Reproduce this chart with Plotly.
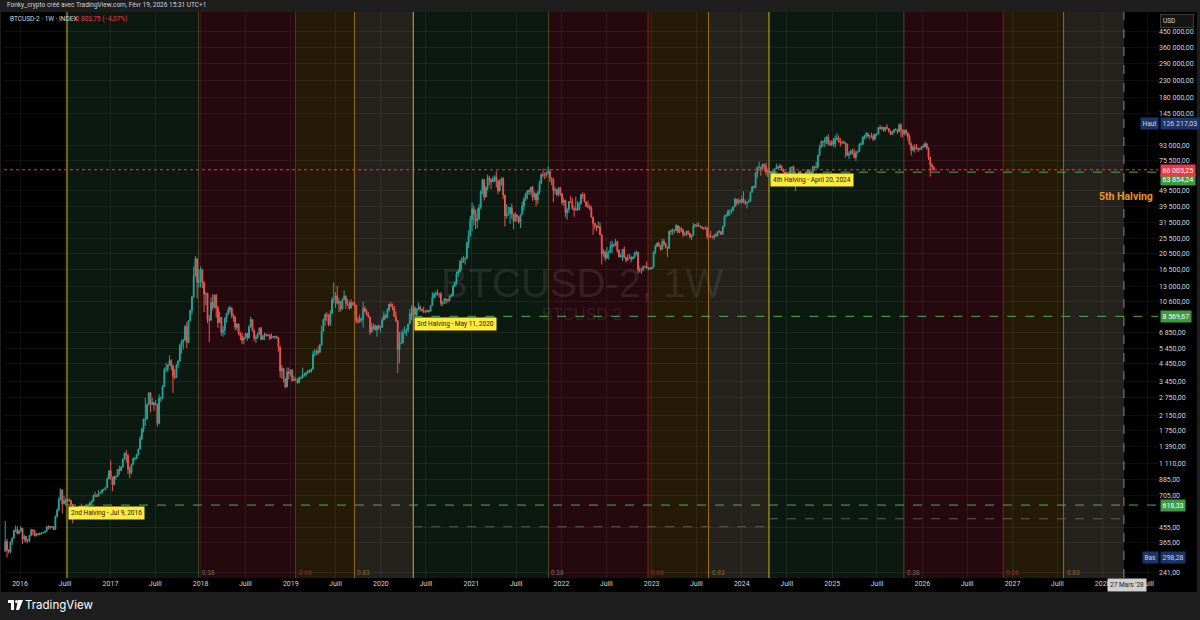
import math
import pandas as pd
import plotly.graph_objects as go

# ---------------- DATA (weekly BTCUSD-2 candles, read/estimated) ----------------
first_open = 325.0
close_2015 = [373, 330, 322, 370, 390, 435, 440, 415, 430]
high_2015 = [495, 385, 335, 372, 395, 440, 465, 460, 436]
low_2015 = [325, 298.28, 315, 315, 355, 390, 425, 410, 415]

close_2016 = [448,385,400,378,376,405,438,432,403,413,410,418,420,422,430,458,452,458,457,440,528,575,670,762,630,660,650,665,660,625,590,570,582,572,610,605,610,603,614,617,640,655,700,705,700,730,735,765,770,790,890,998]
high_2016 = [462,450,410,400,385,408,445,440,440,418,420,420,425,425,432,462,466,462,462,458,535,590,690,780,770,705,680,675,680,665,625,600,590,590,612,630,612,612,617,620,645,660,720,745,720,760,745,770,775,795,910,1000]
low_2016 = [425,360,370,365,365,370,400,405,400,400,405,405,410,415,420,428,440,440,448,435,440,520,570,660,550,625,612,645,650,615,480,565,565,565,568,600,600,595,600,608,615,625,650,690,690,700,725,725,750,765,790,890]

close_2017 = [910,820,925,920,1015,1000,1050,1170,1270,1230,1020,970,1090,1180,1180,1240,1350,1550,1780,2050,2050,2510,2950,2510,2580,2500,2520,1930,2750,2750,3220,4070,4100,4350,4620,4300,3700,3650,4360,4600,5700,6000,6150,7400,5950,8050,9300,11200,15000,19100,13800,13900]
high_2017 = [1150,910,930,925,1020,1070,1060,1180,1290,1330,1260,1060,1100,1200,1210,1260,1355,1620,1820,2060,2760,2540,2980,2980,2770,2600,2680,2520,2900,2800,3290,4200,4480,4400,4980,4720,4360,4100,4370,4620,5850,6200,6250,7600,7880,8100,9400,11400,17200,19800,19200,16500]
low_2017 = [880,750,820,880,915,940,990,1040,1170,1120,950,900,950,1085,1150,1175,1240,1350,1530,1700,1860,2080,2480,2250,2500,2300,2500,1840,1900,2600,2700,3200,3950,3950,4300,4050,2950,3580,3650,4180,4560,5100,5400,6150,5500,5900,8000,8800,11100,15000,11000,12800]

close_2018 = [16500,13700,11700,11800,8200,8100,10400,9700,11500,9600,7850,8450,6850,7050,8350,8900,9400,9650,8700,8500,7350,7700,6750,6500,6150,6350,6750,6350,7400,8200,7000,6300,6400,6700,7250,6200,6500,6700,6620,6580,6300,6450,6420,6480,6350,5600,4000,4150,3600,3200,3950,3850]
high_2018 = [17200,16300,14000,12000,11800,8700,11200,11700,11600,11700,9950,9150,8500,7500,8450,9000,9750,9950,9600,8900,8550,7750,7750,6900,6800,6450,6800,6800,7600,8500,8250,7150,6600,6850,7350,7400,6600,6850,6700,6650,6700,6750,6500,6500,6550,6400,5600,4350,4150,3600,4200,4200]
low_2018 = [12800,12700,9100,10000,7800,6000,8100,9300,9600,8400,7300,8100,6550,6450,6600,7850,8700,9000,8350,7950,7050,7050,6600,6150,5800,5800,6300,6100,6300,7350,6950,6100,5900,6250,6650,6150,6200,6150,6450,6500,6150,6300,6350,6250,6300,5250,3650,3600,3400,3150,3200,3550]

close_2019 = [4050,3500,3550,3550,3400,3650,3650,3800,3800,3900,4000,3980,4100,5050,5100,5300,5200,5750,6950,8200,8750,8700,7650,8900,10800,10800,11400,10300,10550,9500,10800,11300,10250,10150,9600,10400,10300,10000,8050,7950,8300,8200,9550,9200,8800,8500,6900,7400,7500,7100,7500,7300]
high_2019 = [4100,4100,3750,3650,3600,3700,3700,4200,3900,3950,4050,4100,4150,5300,5450,5400,5650,5850,7500,8300,8950,9100,8800,9350,11200,13800,12000,13100,11000,10600,11000,12300,11500,10900,10600,10900,10450,10350,10050,8500,8800,8400,10500,9900,9500,9100,8500,7850,7750,7650,7550,7650]
low_2019 = [3700,3450,3500,3500,3350,3370,3550,3600,3700,3700,3850,3900,3900,4100,4900,5000,5000,5150,5700,6900,7500,8000,7450,7500,8900,10300,9650,10100,9100,9150,9400,11000,9500,9900,9350,9600,9900,9800,7800,7750,7850,7900,7350,9050,8650,8400,6600,6850,7100,7050,6450,7100]

close_2020 = [7350,8150,8700,8400,9350,10150,9900,9650,8550,8050,5400,5850,5900,6800,6900,7100,7700,8900,8700,9650,8750,9450,9750,9450,9300,9150,9100,9300,9200,9950,11100,11700,11900,11650,11700,10250,10350,10950,10750,10650,11300,11500,13050,13750,15500,15950,18400,18200,19150,19250,23900,26300,33000]
high_2020 = [7500,8450,9200,8850,9600,10180,10500,10250,9950,9180,8100,6900,6950,7200,7450,7250,7750,9500,10000,9950,9850,9600,10400,9950,9550,9800,9300,9450,9300,10000,12000,11900,12100,12450,11800,12050,10550,11100,10950,10950,11450,11750,13350,13850,15950,16500,18800,19500,19900,19450,24300,28400,34800]
low_2020 = [6850,7350,8100,8250,8400,9150,9700,9300,8500,7900,3900,4450,5850,5900,6750,6500,6850,7700,8100,8200,8700,8650,9300,9150,9150,8950,8950,9100,9000,9150,9900,11000,11200,11400,11100,9900,9900,10200,10150,10350,10550,11200,11400,12900,13300,14800,15800,16300,18100,17600,19000,22200,26000]

close_2021 = [38300,35800,32300,33100,38900,48600,57500,45200,51200,59000,57600,55800,58200,59800,56200,49100,56600,58200,46400,34700,35600,35800,39000,35500,32200,35300,34200,31800,35400,39900,43800,47000,49300,48800,51800,45200,47300,43200,48200,54700,61500,61300,61300,63300,64400,58600,57300,49400,50100,46700,50800,47300]
high_2021 = [41900,40100,37800,38600,40900,49700,58350,57500,52600,61800,60600,58400,60100,61200,64850,57500,58000,59500,59600,46600,40800,39500,39500,41300,36000,36600,35100,34700,35500,42300,45300,48100,49500,50500,51900,52900,48800,47400,49300,56600,62900,67000,63700,64300,69000,66300,59300,59100,51900,50000,52100,52100]
low_2021 = [28000,30300,28900,29300,33400,38000,47000,43000,45000,49300,53300,50400,55500,55500,51500,47000,48800,53000,43800,30000,33400,34800,31100,33300,28800,32700,32100,31100,29300,35300,37500,42800,43900,46400,46600,42800,43400,39600,40800,46900,53900,59500,57800,59400,62300,55600,53300,42000,46800,45500,45600,45700]

close_2022 = [41900,43100,36300,37900,42400,42200,38400,37700,38400,37800,41300,46800,46400,42200,39700,39500,38500,34100,31300,30300,29400,29900,26600,20500,21000,19300,20800,20800,22600,23300,23200,24300,21500,19550,19950,21800,19400,18800,19300,19450,19050,19550,20650,20900,16300,16300,16450,17100,17100,16750,16850,16600]
high_2022 = [47600,44500,43500,38900,42600,45800,44500,39800,45400,42600,42300,46900,48200,47500,42400,42900,40800,40000,34300,31400,30600,32200,31600,26900,21800,21500,22500,21500,24300,24600,23600,25200,24400,21800,20550,21850,22700,19700,20300,20450,19950,19700,21000,21450,21050,17200,16800,17400,17400,18400,16950,16950]
low_2022 = [40600,39800,34000,32900,36300,41700,37900,34300,37500,37200,37600,40500,44200,41900,39200,38600,37600,33700,26700,28700,28000,29300,26600,17600,19700,18600,19000,18900,20700,20700,22400,22700,20800,19550,19550,18550,19300,18150,18500,19100,18200,18900,19250,20050,15600,15800,15500,16000,16900,16550,16250,16400]

close_2023 = [16950,20900,22700,23750,22950,21850,24300,23550,22400,22150,28000,27900,28450,28300,30300,27600,29200,28700,26900,26750,28050,27200,25850,26350,30500,30600,30150,30250,29800,29300,29050,29400,26100,26000,25850,25850,26550,26250,27950,27900,26850,29950,34500,35000,37050,37350,37450,39450,43800,41400,43000,42250]
high_2023 = [17050,21200,23300,23950,24250,23150,25250,25100,23900,22600,28500,28800,29200,28800,31000,30500,30100,29800,28800,27600,28200,28450,27450,26800,31400,31000,31500,31800,30350,29800,29500,30200,29700,26800,28150,26100,26850,27450,28050,28600,27900,30300,35200,35900,37950,37900,38400,39600,44700,43400,44300,43800]
low_2023 = [16600,16900,20400,22400,22550,21400,21550,22800,21950,19600,21900,26600,26600,27300,28200,27200,27200,27700,25800,26350,26100,26600,25350,24800,26250,29500,29700,29950,29500,28900,28600,28750,25200,25800,25600,25400,24900,26050,26050,27250,26550,26850,29950,34100,34500,34800,35600,36800,39400,40200,40500,41300]

close_2024 = [43900,41700,41550,42050,42600,48300,52100,51700,63100,68300,68400,67200,71300,69400,63900,64950,63100,64000,61400,66900,68500,67750,69650,66650,64250,62700,55850,60800,68150,68250,58150,58700,59450,64200,57300,54850,59150,63350,65600,62800,63900,69000,67950,68750,80400,89850,97900,97200,99800,104250,95100,93700]
high_2024 = [45900,48950,43550,42200,43800,48600,52800,52950,64000,69200,73800,68900,71700,71300,72700,66900,67200,64700,65500,67400,71950,70000,71950,70150,66950,63750,63850,61600,68400,69350,70050,62700,61800,65000,64950,59800,60600,64100,66500,65550,64450,69450,69500,73600,81500,93450,99600,98750,104000,105200,108300,99950]
low_2024 = [40800,41500,40500,38550,41800,42300,48200,50600,50900,59000,65000,60800,66500,64500,61000,59650,62800,56500,60200,60700,66600,66700,67600,65100,63400,58400,53500,54300,59900,63500,57200,49000,56100,57800,57200,52550,54550,57500,62650,59800,58900,62500,65100,67450,66800,80200,89400,90800,90500,94200,92200,92500]

close_2025 = [98300,94500,101300,102600,97700,96500,96150,96250,94250,80700,82600,86100,82350,78350,83750,85150,93750,94300,104100,106500,109000,105700,105700,105600,100950,108350,109200,119100,117300,119400,114200,119300,117400,113500,108250,111150,115300,115250,112150,123500,115100,108650,114500,110500,104700,94400,86800,90400,89400,88200,88400,87800,91500]
high_2025 = [98900,102700,106400,109600,106450,102500,98800,99500,96500,95000,85300,87450,88750,88500,86100,86450,95750,97900,104950,107100,111950,110700,106800,110600,108900,108550,110500,119500,123200,120250,119800,119400,124450,117650,113650,113400,116750,117900,115400,125600,126217.03,116000,114900,116400,111200,107500,96600,93000,94100,94600,90400,89500,91900]
low_2025 = [91550,91200,89250,99500,96200,91200,94100,94850,78250,80000,76600,81200,81600,77150,74450,83100,85150,92800,93350,100700,102100,103100,100400,102700,98200,99650,105100,107500,115750,114700,112000,112600,116800,110700,107300,107300,110650,114400,108700,111600,104000,103600,106700,106300,98900,93000,80600,85300,83800,87600,84400,86500,86900]

close_2026 = [90700,95000,88700,78600,70500,68809,66005.25]
high_2026 = [94700,97900,95500,90500,79300,72300,69000]
low_2026 = [89300,90500,87300,75500,60000,65100,65700]

halving_dates = ["2016-07-09", "2020-05-11", "2024-04-20", "2028-03-27"]
halving_prices = [618.33, 8569.67, 63854.24]
halving_labels = ["2nd Halving - Jul 9, 2016", "3rd Halving - May 11, 2020", "4th Halving - April 20, 2024"]
cycle_levels = [0.38, 0.66, 0.83]
gray_levels = [457, 511]          # faint grey dashed levels, per cycle 3 and 4
last_price = 66005.25
change_text = "\u22122 803,75 (\u22124,07%)"
range_high = 126217.03
range_low = 298.28

ytick_vals = [241, 365, 455, 705, 885, 1110, 1390, 1750, 2150, 2750, 3450, 4450, 5450, 6850,
              10600, 13000, 16500, 20500, 25500, 31500, 39500, 49500, 75500, 93000,
              145000, 180000, 230000, 290000, 360000, 450000]
xtick_years = list(range(2016, 2029))
month_label = "Juill"

# ---------------- assemble ----------------
close = (close_2015 + close_2016 + close_2017 + close_2018 + close_2019 + close_2020 +
         close_2021 + close_2022 + close_2023 + close_2024 + close_2025 + close_2026)
high = (high_2015 + high_2016 + high_2017 + high_2018 + high_2019 + high_2020 +
        high_2021 + high_2022 + high_2023 + high_2024 + high_2025 + high_2026)
low = (low_2015 + low_2016 + low_2017 + low_2018 + low_2019 + low_2020 +
       low_2021 + low_2022 + low_2023 + low_2024 + low_2025 + low_2026)
opn = [first_open] + close[:-1]
high = [max(h, o, c) for h, o, c in zip(high, opn, close)]
low = [min(l, o, c) for l, o, c in zip(low, opn, close)]
dates = pd.date_range("2015-11-02", periods=len(close), freq="7D")

W, H = 1200, 620
ML, MR, MT, MB = 4, 42, 12, 42
PW, PH = W - ML - MR, H - MT - MB


def px(x):
    return (x - ML) / PW


def py(y):
    return (H - MB - y) / PH


def fr(v):
    s = f"{v:,.2f}"
    return s.replace(",", " ").replace(".", ",")


X_RANGE = ["2015-10-28", "2028-08-12"]
Y_RANGE = [2.350, 5.774]
FONT = "Roboto"

fig = go.Figure()

fig.add_trace(go.Candlestick(
    x=dates, open=opn, high=high, low=low, close=close,
    increasing=dict(line=dict(color="#26a69a", width=1), fillcolor="#26a69a"),
    decreasing=dict(line=dict(color="#ef5350", width=1), fillcolor="#ef5350"),
    whiskerwidth=0, hoverinfo="skip", showlegend=False,
))

# faint grey dashed levels (cycle 3 and cycle 4)
for i, lv in enumerate(gray_levels):
    fig.add_trace(go.Scatter(x=[halving_dates[i + 1], halving_dates[i + 2]], y=[lv, lv], mode="lines",
                             line=dict(color="#5e5e5e", width=1, dash="dash"),
                             hoverinfo="skip", showlegend=False))
# horizontal price levels at halvings (green dashed, to the right)
for d, p in zip(halving_dates[:3], halving_prices):
    fig.add_trace(go.Scatter(x=[d, X_RANGE[1]], y=[p, p], mode="lines",
                             line=dict(color="#4caf50", width=1, dash="dash"),
                             hoverinfo="skip", showlegend=False))
# current price line
fig.add_trace(go.Scatter(x=X_RANGE, y=[last_price, last_price], mode="lines",
                         line=dict(color="#f23645", width=1, dash="dot"),
                         hoverinfo="skip", showlegend=False))

shapes = []
# black chart panel (plot + axes)
shapes.append(dict(type="rect", xref="paper", yref="paper", x0=px(1), x1=px(1197), y0=py(592), y1=1,
                   fillcolor="#000000", line=dict(width=0), layer="below"))

zone_colors = ["#0c1910", "#25090e", "#241a06", "#25221e"]
line_colors = ["#4a4a22", "#8a1c22", "#9a6a10"]
text_colors = ["#707060", "#8a3030", "#8a6a28"]
for i in range(3):
    a = pd.Timestamp(halving_dates[i])
    b = pd.Timestamp(halving_dates[i + 1])
    bounds = [a] + [a + (b - a) * f for f in cycle_levels] + [b]
    for k in range(4):
        shapes.append(dict(type="rect", xref="x", yref="paper", x0=bounds[k], x1=bounds[k + 1],
                           y0=0, y1=1, fillcolor=zone_colors[k], line=dict(width=0), layer="below"))
    for k in range(3):
        shapes.append(dict(type="line", xref="x", yref="paper", x0=bounds[k + 1], x1=bounds[k + 1],
                           y0=0, y1=1, line=dict(color=line_colors[k], width=1), layer="below"))
for d in halving_dates[:3]:
    shapes.append(dict(type="line", xref="x", yref="paper", x0=d, x1=d, y0=0, y1=1,
                       line=dict(color="#c8b820", width=1), layer="below"))
shapes.append(dict(type="line", xref="x", yref="paper", x0=halving_dates[3], x1=halving_dates[3],
                   y0=0, y1=1, line=dict(color="#8a8a8a", width=1, dash="dash"), layer="below"))
# bottom footer band
shapes.append(dict(type="rect", xref="paper", yref="paper", x0=px(0), x1=px(1200), y0=py(620), y1=py(592),
                   fillcolor="#1e1e1e", line=dict(width=0), layer="below"))
# TradingView logo (approx.)
shapes.append(dict(type="rect", xref="paper", yref="paper", x0=px(8), x1=px(14), y0=py(603), y1=py(600),
                   fillcolor="#ffffff", line=dict(width=0)))
shapes.append(dict(type="rect", xref="paper", yref="paper", x0=px(11), x1=px(14), y0=py(610), y1=py(600),
                   fillcolor="#ffffff", line=dict(width=0)))
shapes.append(dict(type="circle", xref="paper", yref="paper", x0=px(15), x1=px(18), y0=py(603), y1=py(600),
                   fillcolor="#ffffff", line=dict(width=0)))
shapes.append(dict(type="path", xref="paper", yref="paper",
                   path=f"M {px(18)} {py(600)} L {px(23)} {py(600)} L {px(19)} {py(610)} L {px(16)} {py(610)} Z",
                   fillcolor="#ffffff", line=dict(width=0)))

annotations = []
# cycle level labels
for i in range(3):
    a = pd.Timestamp(halving_dates[i])
    b = pd.Timestamp(halving_dates[i + 1])
    for k, f in enumerate(cycle_levels):
        annotations.append(dict(x=a + (b - a) * f, y=py(573), xref="x", yref="paper", text=f"{f:.2f}",
                                showarrow=False, xanchor="left", yanchor="middle", xshift=1,
                                font=dict(size=6.5, color=text_colors[k], family=FONT)))
# halving label boxes
for d, p, t in zip(halving_dates[:3], halving_prices, halving_labels):
    annotations.append(dict(x=d, y=math.log10(p), xref="x", yref="y", text=t, showarrow=False,
                            xanchor="left", yanchor="top", xshift=1, yshift=-1,
                            bgcolor="#ffeb3b", borderpad=2,
                            font=dict(size=6.5, color="#131313", family=FONT)))
# 5th halving text
annotations.append(dict(x=halving_dates[3], y=py(196), xref="x", yref="paper", text="<b>5th Halving</b>",
                        showarrow=False, xanchor="center", yanchor="middle", xshift=2,
                        font=dict(size=10.5, color="#f0931a", family="Roboto")))
# watermark
annotations.append(dict(x=px(582), y=py(283), xref="paper", yref="paper", text="BTCUSD-2, 1W",
                        showarrow=False, font=dict(size=40, color="rgba(150,150,150,0.16)", family="Liberation Sans")))
annotations.append(dict(x=px(582), y=py(314), xref="paper", yref="paper", text="BTCUSD-2",
                        showarrow=False, font=dict(size=16, color="rgba(150,150,150,0.16)", family="Liberation Sans")))
# header texts
annotations.append(dict(x=px(5), y=py(5), xref="paper", yref="paper", xanchor="left", yanchor="middle",
                        text="Fonky_crypto créé avec TradingView.com, Févr 19, 2026 15:31 UTC+1", showarrow=False,
                        font=dict(size=6.5, color="#d1d4dc", family=FONT)))
annotations.append(dict(x=px(8), y=py(19), xref="paper", yref="paper", xanchor="left", yanchor="middle",
                        text="BTCUSD-2 · 1W · INDEX", showarrow=False,
                        font=dict(size=6.5, color="#d1d4dc", family=FONT)))
annotations.append(dict(x=px(70), y=py(19), xref="paper", yref="paper", xanchor="left", yanchor="middle",
                        text=change_text, showarrow=False,
                        font=dict(size=6.5, color="#f23645", family=FONT)))
# USD box
annotations.append(dict(x=1, y=py(21), xref="paper", yref="paper", xanchor="left", yanchor="middle", xshift=2,
                        text="USD" + "&nbsp;" * 10, showarrow=False, bgcolor="#141414", bordercolor="#3a3a3a",
                        borderwidth=1, borderpad=2, align="left",
                        font=dict(size=6.5, color="#d1d4dc", family=FONT)))


# right axis price labels
def axis_box(val, bg, fg="#ffffff", dy=0):
    annotations.append(dict(x=1, y=math.log10(val), xref="paper", yref="y", xanchor="left", yanchor="middle",
                            xshift=2, yshift=dy, text=fr(val), showarrow=False, bgcolor=bg, borderpad=1.5,
                            font=dict(size=7, color=fg, family=FONT)))


axis_box(range_high, "#1c3566", "#d1d4dc")
axis_box(range_low, "#1c3566", "#d1d4dc")
axis_box(halving_prices[0], "#3d9a40")
axis_box(halving_prices[1], "#3d9a40")
axis_box(halving_prices[2], "#3d9a40", dy=-7)
axis_box(last_price, "#f23645", dy=-1)
for val, t in [(range_high, "Haut"), (range_low, "Bas")]:
    annotations.append(dict(x=1, y=math.log10(val), xref="paper", yref="y", xanchor="right", yanchor="middle",
                            xshift=1, text=t, showarrow=False, bgcolor="#1c3566", borderpad=1.5,
                            font=dict(size=6.5, color="#d1d4dc", family=FONT)))
# date label at 5th halving
annotations.append(dict(x=halving_dates[3], y=py(585), xref="x", yref="paper", text="27 Mars '28",
                        showarrow=False, xanchor="center", yanchor="middle", xshift=3, bgcolor="#cfcfcf",
                        borderpad=2, font=dict(size=6.5, color="#1a1a1a", family=FONT)))
# footer
annotations.append(dict(x=px(23), y=py(605), xref="paper", yref="paper", text="TradingView", showarrow=False,
                        xanchor="left", yanchor="middle", font=dict(size=11.5, color="#ffffff", family="Inter")))

xtick_vals, xtick_text = [], []
for yr in xtick_years:
    xtick_vals += [f"{yr}-01-01", f"{yr}-07-01"]
    xtick_text += [str(yr), month_label]

fig.update_layout(
    width=W, height=H,
    margin=dict(l=ML, r=MR, t=MT, b=MB),
    paper_bgcolor="#1e1e1e", plot_bgcolor="#000000",
    shapes=shapes, annotations=annotations, showlegend=False,
    xaxis=dict(type="date", range=X_RANGE, tickvals=xtick_vals, ticktext=xtick_text,
               tickfont=dict(size=7, color="#d1d4dc", family=FONT), ticks="",
               showgrid=True, gridcolor="rgba(255,255,255,0.06)", gridwidth=1,
               zeroline=False, showline=False, rangeslider=dict(visible=False), fixedrange=True),
    yaxis=dict(type="log", side="right", range=Y_RANGE, tickvals=ytick_vals,
               ticktext=[fr(v) for v in ytick_vals],
               tickfont=dict(size=7, color="#d1d4dc", family=FONT), ticks="",
               showgrid=True, gridcolor="rgba(255,255,255,0.06)", gridwidth=1,
               zeroline=False, showline=False, fixedrange=True),
    hovermode=False,
)

fig.write_html("out.html", config={"displayModeBar": False, "staticPlot": True},
               post_script="document.body.style.margin='0px';document.body.style.overflow='hidden';")
